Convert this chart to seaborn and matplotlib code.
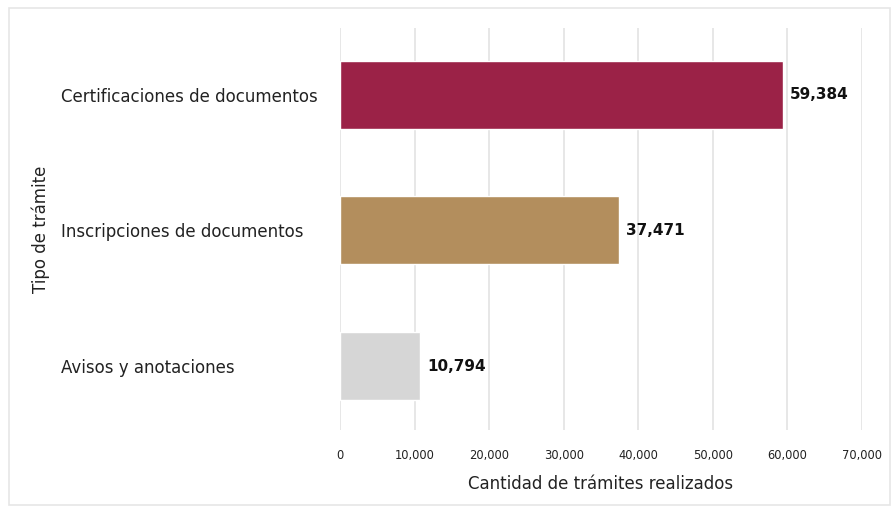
import pandas as pd
import seaborn as sns
import matplotlib.pyplot as plt
from matplotlib.patches import Rectangle
from matplotlib.ticker import FuncFormatter

# datos
tipos = ["Certificaciones de documentos", "Inscripciones de documentos", "Avisos y anotaciones"]
cantidades = [59384, 37471, 10794]
colores = ["#9B2247", "#B38E5D", "#D6D6D6"]

df = pd.DataFrame({"tipo": tipos, "cantidad": cantidades})

sns.set_theme(style="white")
plt.rcParams["font.family"] = ["DejaVu Sans"]

fig = plt.figure(figsize=(8.94, 5.08), dpi=100)
ax = fig.add_axes([0.3803, 0.1535, 0.5839, 0.7913])

sns.barplot(data=df, x="cantidad", y="tipo", hue="tipo", palette=colores,
            saturation=1, width=0.5, legend=False, ax=ax, zorder=3)

ax.set_xlim(0, 70000)
ax.set_ylim(2.47, -0.49)
ax.set_xticks(range(0, 70001, 10000))
ax.xaxis.set_major_formatter(FuncFormatter(lambda v, p: f"{int(v):,}"))
ax.grid(axis="x", color="#e3e3e3", linewidth=1.2, zorder=0)
ax.grid(axis="y", visible=False)
for s in ax.spines.values():
    s.set_visible(False)

ax.tick_params(axis="x", length=0, pad=14, labelsize=8.3, labelcolor="#222222")
ax.tick_params(axis="y", length=0, pad=201, labelsize=12, labelcolor="#222222")
for lbl in ax.get_yticklabels():
    lbl.set_horizontalalignment("left")

for i, v in enumerate(cantidades):
    ax.text(v + 900, i, f"{v:,}", va="center", ha="left",
            fontsize=11, fontweight="bold", color="#111111")

ax.set_xlabel("Cantidad de trámites realizados", fontsize=12, color="#222222", labelpad=9)
ax.set_ylabel("Tipo de trámite", fontsize=12, color="#222222")
ax.yaxis.set_label_coords(-0.555, 0.5)

# marco exterior
fig.patches.append(Rectangle((9 / 894, 0.005), 0.995 - 9 / 894, 0.98, transform=fig.transFigure,
                             fill=False, edgecolor="#e6e6e6", linewidth=1.2))

fig.savefig("out.png", dpi=100)
